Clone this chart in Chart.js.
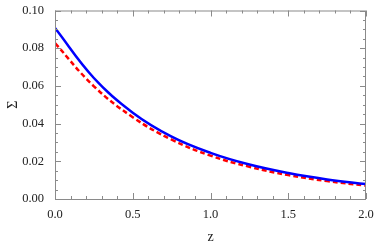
<!DOCTYPE html>
<html>
<head>
<meta charset="utf-8">
<script src="https://cdn.jsdelivr.net/npm/chart.js@4/dist/chart.umd.min.js"></script>
<style>
  html, body { margin: 0; padding: 0; background: #fff; }
  #wrap { width: 374px; height: 247px; }
</style>
</head>
<body>
<div id="wrap"><canvas id="sigmaChart"></canvas></div>
<script>
const zValues = [0, 0.25, 0.5, 0.75, 1.0, 1.25, 1.5, 1.75, 2.0];
const sigmaSolid = [0.0907, 0.0642, 0.0458, 0.0331, 0.0245, 0.0183, 0.0138, 0.0104, 0.0079];
const sigmaDashed = [0.0827, 0.0598, 0.0434, 0.0315, 0.0230, 0.0171, 0.0127, 0.0095, 0.0071];

const serif = "'Liberation Serif', 'Times New Roman', serif";
const ctx = document.getElementById("sigmaChart");

function toPoints(values) {
  return zValues.map((z, i) => ({ x: z, y: values[i] }));
}

// frame round the plot with ticks pointing inwards
const frameTicks = {
  id: "frameTicks",
  afterDraw(chart) {
    const { ctx, chartArea } = chart;
    const xs = chart.scales.x;
    const ys = chart.scales.y;
    ctx.save();
    ctx.strokeStyle = "#8a8a8a";
    ctx.lineWidth = 1;
    ctx.strokeRect(chartArea.left + 0.5, chartArea.top + 0.5,
      chartArea.right - chartArea.left - 1, chartArea.bottom - chartArea.top);
    ctx.beginPath();
    for (let i = 0; i <= 20; i++) {
      const px = Math.round(xs.getPixelForValue(i / 10)) + 0.5;
      const len = i % 5 === 0 ? 6 : 3;
      ctx.moveTo(px, chartArea.bottom);
      ctx.lineTo(px, chartArea.bottom - len);
      ctx.moveTo(px, chartArea.top);
      ctx.lineTo(px, chartArea.top + len);
    }
    for (let i = 0; i <= 20; i++) {
      const py = Math.round(ys.getPixelForValue(i * 0.005)) + 0.5;
      const len = i % 4 === 0 ? 6 : 3;
      ctx.moveTo(chartArea.left, py);
      ctx.lineTo(chartArea.left + len, py);
      ctx.moveTo(chartArea.right, py);
      ctx.lineTo(chartArea.right - len, py);
    }
    ctx.stroke();
    ctx.restore();
  },
};

new Chart(ctx, {
  type: "line",
  data: {
    datasets: [
      {
        data: toPoints(sigmaSolid),
        borderColor: "#0000ff",
        borderWidth: 2.5,
        pointRadius: 0,
        tension: 0.4,
      },
      {
        data: toPoints(sigmaDashed),
        borderColor: "#ff0000",
        borderWidth: 2.5,
        borderDash: [5, 3],
        pointRadius: 0,
        tension: 0.4,
      },
    ],
  },
  plugins: [frameTicks],
  options: {
    responsive: true,
    maintainAspectRatio: false,
    animation: false,
    layout: {
      padding: { left: 0, right: 8, top: 6, bottom: 0 },
    },
    plugins: {
      legend: { display: false },
      tooltip: { enabled: false },
    },
    scales: {
      x: {
        type: "linear",
        min: 0,
        max: 2,
        grid: { display: false },
        border: { display: false },
        ticks: {
          stepSize: 0.5,
          padding: 0,
          color: "#222",
          font: { family: serif, size: 12.5 },
          callback: (v) => v.toFixed(1),
        },
        title: {
          display: true,
          text: "z",
          color: "#222",
          font: { family: serif, size: 14 },
          padding: { top: 0, bottom: 1 },
        },
        afterFit(scale) {
          scale.height = 48;
        },
      },
      y: {
        min: 0,
        max: 0.1,
        grid: { display: false },
        border: { display: false },
        ticks: {
          stepSize: 0.02,
          padding: 3,
          color: "#222",
          font: { family: serif, size: 12.5 },
          callback: (v) => v.toFixed(2),
        },
        title: {
          display: true,
          text: "Σ",
          color: "#222",
          font: { family: serif, size: 14 },
          padding: { top: 5, bottom: 0 },
        },
        afterFit(scale) {
          scale.width = 55;
        },
      },
    },
  },
});
</script>
</body>
</html>
